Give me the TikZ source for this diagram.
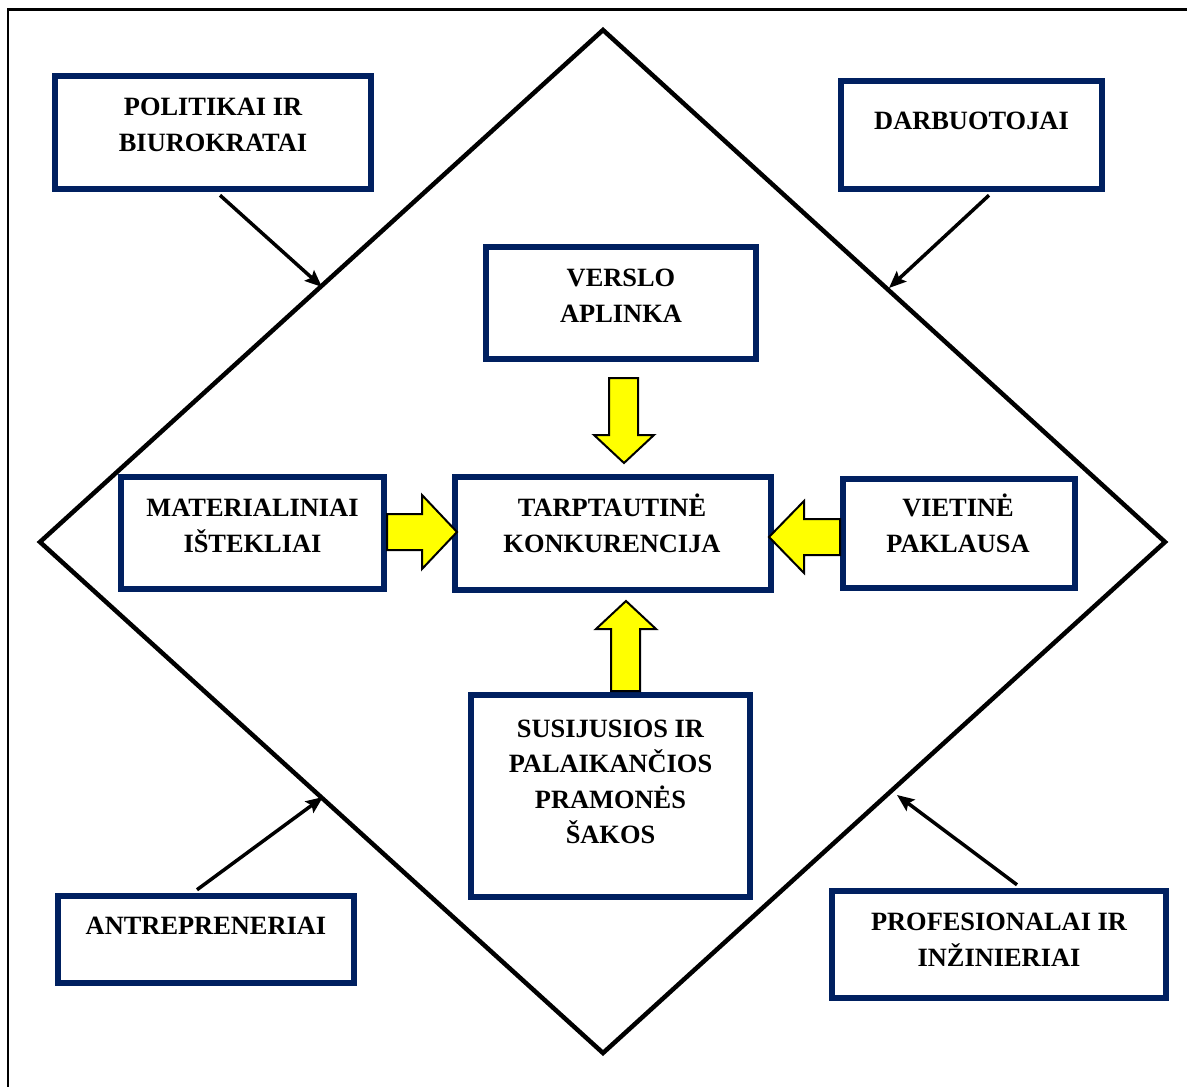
\documentclass[tikz,border=0pt]{standalone}
\usepackage{fontspec}
\setmainfont{Liberation Serif}
\usetikzlibrary{arrows.meta,calc}
\definecolor{boxnavy}{HTML}{002060}
\definecolor{blockyellow}{HTML}{FFFF00}

\begin{document}
\begin{tikzpicture}[x=1pt,y=-1pt,
  frameline/.style={line width=2.5pt,black},
  rhomb/.style={line width=4.5pt,black,line join=miter},
  actor/.style={draw=boxnavy,line width=6.5pt,fill=white,inner sep=0pt},
  caption/.style={font=\fontsize{26.4pt}{36pt}\selectfont\bfseries,align=center,inner sep=0pt,anchor=base},
  influence/.style={line width=3.5pt,black,-{Stealth[length=17pt,width=14pt,inset=3pt]}},
  blockarrow/.style={fill=blockyellow,draw=black,line width=2pt,line join=miter}]

  \useasboundingbox (0,0) rectangle (1187,1087);

  % outer frame (runs past the right and bottom page edges)
  \draw[frameline] (8,1100) -- (8,9.5) -- (1200,9.5);

  % diamond corners
  \coordinate (dT) at (603,30);
  \coordinate (dR) at (1165,542);
  \coordinate (dB) at (603,1053);
  \coordinate (dL) at (40,542);
  \draw[rhomb] (dT) -- (dR) -- (dB) -- (dL) -- cycle;

  % points on the diamond sides hit by the influence arrows
  \coordinate (hitTL) at (322,287);
  \coordinate (hitTR) at (889,288);
  \coordinate (hitBL) at (323,797);
  \coordinate (hitBR) at (897,795);

  % outer actor boxes
  \node[actor,minimum width=316pt,minimum height=113pt] (pol)  at (213,132.5) {};
  \node[actor,minimum width=261pt,minimum height=108pt] (darb) at (971.5,135) {};
  \node[actor,minimum width=296pt,minimum height=87pt]  (antr) at (206,939.5) {};
  \node[actor,minimum width=334pt,minimum height=107pt] (prof) at (999,944.5) {};

  % inner determinant boxes
  \node[actor,minimum width=270pt,minimum height=112pt] (vers) at (621,303) {};
  \node[actor,minimum width=263pt,minimum height=112pt] (mat)  at (252.5,533) {};
  \node[actor,minimum width=316pt,minimum height=113pt] (tarp) at (613,533.5) {};
  \node[actor,minimum width=232pt,minimum height=109pt] (viet) at (959,533.5) {};
  \node[actor,minimum width=279pt,minimum height=202pt] (sus)  at (610.5,796) {};

  % influence arrows from the outer actors to the diamond
  \draw[influence] ([xshift=7pt,yshift=-3pt]pol.south) -- (hitTL);
  \draw[influence] ([xshift=17.5pt,yshift=-3pt]darb.south) -- (hitTR);
  \draw[influence] ([xshift=-9pt,yshift=3pt]antr.north) -- (hitBL);
  \draw[influence] ([xshift=18pt,yshift=3pt]prof.north) -- (hitBR);

  % yellow block arrows into the central box
  \draw[blockarrow] (609,378) -- (638,378) -- (638,435) -- (654,435) -- (624,463)
                    -- (594,435) -- (609,435) -- cycle;
  \draw[blockarrow] (387,514) -- (422,514) -- (422,495) -- (457,532) -- (422,569)
                    -- (422,550) -- (387,550) -- cycle;
  \draw[blockarrow] (840,519) -- (804,519) -- (804,501) -- (769,537) -- (804,573)
                    -- (804,555) -- (840,555) -- cycle;
  \draw[blockarrow] (611,691) -- (611,629) -- (596,629) -- (626,601) -- (656,629)
                    -- (640,629) -- (640,691) -- cycle;

  % box texts (anchored on the baseline of their last line)
  \node[caption] (polT)  at (213,151)   {POLITIKAI IR\\BIUROKRATAI};
  \node[caption] (darbT) at (971.5,129) {DARBUOTOJAI};
  \node[caption] (versT) at (621,322)   {VERSLO\\APLINKA};
  \node[caption] (matT)  at (252.5,552) {MATERIALINIAI\\IŠTEKLIAI};
  \node[caption] (tarpT) at (612,552)   {TARPTAUTINĖ\\KONKURENCIJA};
  \node[caption] (vietT) at (958,552)   {VIETINĖ\\PAKLAUSA};
  \node[caption,font=\fontsize{26.4pt}{35.5pt}\selectfont\bfseries] (susT) at (610.5,843.5)
        {SUSIJUSIOS IR\\PALAIKANČIOS\\PRAMONĖS\\ŠAKOS};
  \node[caption] (antrT) at (206,934)   {ANTREPRENERIAI};
  \node[caption] (profT) at (999,966)   {PROFESIONALAI IR\\INŽINIERIAI};
\end{tikzpicture}
\end{document}
